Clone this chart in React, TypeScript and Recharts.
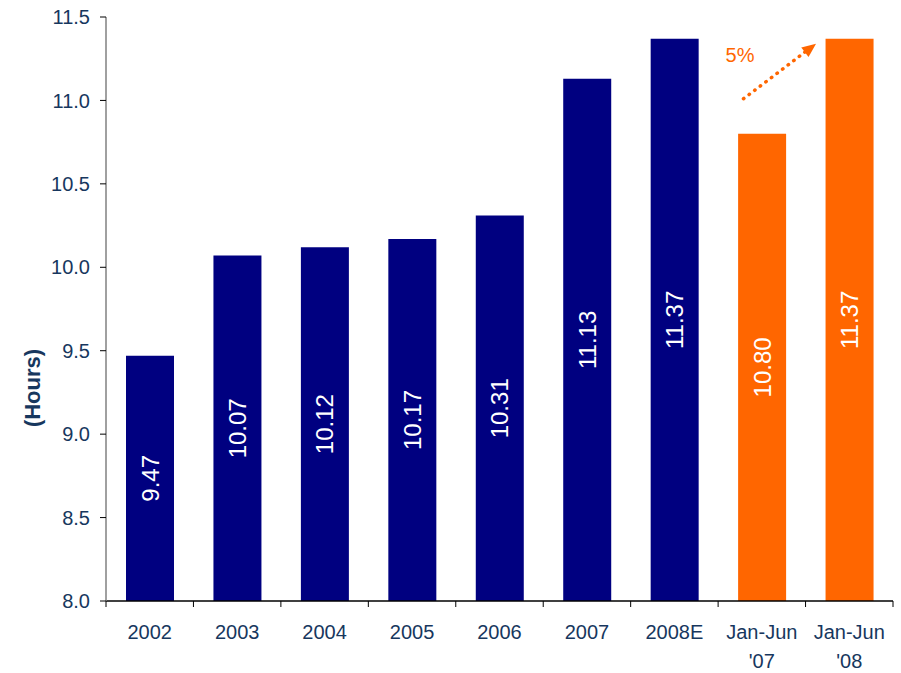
import React from "react";
import {
  BarChart,
  Bar,
  XAxis,
  YAxis,
  Cell,
  LabelList,
  ReferenceLine,
  ReferenceDot,
} from "recharts";

// ---- data ----
const categories = ["2002", "2003", "2004", "2005", "2006", "2007", "2008E", "Jan-Jun '07", "Jan-Jun '08"];
const hours = [9.47, 10.07, 10.12, 10.17, 10.31, 11.13, 11.37, 10.8, 11.37];
const periodKinds = ["year", "year", "year", "year", "year", "year", "year", "half", "half"];
const yTicks = [8.0, 8.5, 9.0, 9.5, 10.0, 10.5, 11.0, 11.5];
const growthLabel = "5%";
// annotation arrow endpoints (category-position units, hours)
const arrowStart = { x: 7.29, y: 11.01 };
const arrowEnd = { x: 8.12, y: 11.34 };
const growthLabelPos = { x: 7.25, y: 11.27 };

const data = categories.map((c, i) => ({ label: c, hours: hours[i], kind: periodKinds[i], pos: i + 0.5 }));

// ---- styles / layout ----
const W = 901;
const H = 673;
const MARGIN = { top: 17, right: 8, bottom: 0, left: 0 };
const Y_AXIS_W = 106;
const X_AXIS_H = 72;
const PLOT_W = W - MARGIN.left - MARGIN.right - Y_AXIS_W;
const STEP = PLOT_W / categories.length;
const TEXT = "#17375E";
const NAVY = "#000080";
const ORANGE = "#FF6600";
const FONT = "'Liberation Sans', Arial, sans-serif";

const colorFor = (kind: string) => (kind === "half" ? ORANGE : NAVY);

const XTick = (props: any) => {
  const { x, y, payload, index } = props;
  const lines = String(payload.value).split(" ");
  const top = y - 6;
  return (
    <g>
      <line x1={x - STEP / 2} y1={top} x2={x - STEP / 2} y2={top + 6} stroke="#000" strokeWidth={1} />
      {index === categories.length - 1 && (
        <line x1={x + STEP / 2} y1={top} x2={x + STEP / 2} y2={top + 6} stroke="#000" strokeWidth={1} />
      )}
      <text x={x} y={y} textAnchor="middle" fill={TEXT} fontSize={20} fontFamily={FONT}>
        {lines.map((l, i) => (
          <tspan key={i} x={x} dy={i === 0 ? 32 : 29}>
            {l}
          </tspan>
        ))}
      </text>
    </g>
  );
};

const ArrowShape = (props: any) => {
  const { x1, y1, x2, y2 } = props;
  const dx = x2 - x1;
  const dy = y2 - y1;
  const len = Math.sqrt(dx * dx + dy * dy);
  const ux = dx / len;
  const uy = dy / len;
  const head = 14;
  const bx = x2 - ux * head;
  const by = y2 - uy * head;
  const px = -uy * 6;
  const py = ux * 6;
  return (
    <g>
      <line
        x1={x1}
        y1={y1}
        x2={bx}
        y2={by}
        stroke={ORANGE}
        strokeWidth={3.5}
        strokeDasharray="0.5 6.5"
        strokeLinecap="round"
      />
      <polygon points={`${x2},${y2} ${bx + px},${by + py} ${bx - px},${by - py}`} fill={ORANGE} />
    </g>
  );
};

const YLabel = () => (
  <text
    x={32}
    y={388}
    transform="rotate(-90, 32, 388)"
    textAnchor="middle"
    dominantBaseline="central"
    fill={TEXT}
    fontSize={22}
    fontWeight="bold"
    fontFamily={FONT}
  >
    (Hours)
  </text>
);

export default function App() {
  return (
    <div style={{ position: "absolute", left: 0, top: 0, width: W, height: H, background: "#fff" }}>
      <BarChart width={W} height={H} data={data} margin={MARGIN} barSize={48}>
        <XAxis
          dataKey="label"
          height={X_AXIS_H}
          axisLine={{ stroke: "#000", strokeWidth: 1.5 }}
          tickLine={false}
          tickSize={6}
          tickMargin={0}
          interval={0}
          tick={<XTick />}
        />
        <XAxis
          xAxisId="num"
          dataKey="pos"
          type="number"
          domain={[0, categories.length]}
          allowDataOverflow
          padding={{ left: 0, right: 0 }}
          hide
        />
        <YAxis
          width={Y_AXIS_W}
          domain={[8, 11.5]}
          ticks={yTicks}
          interval={0}
          allowDataOverflow
          tickFormatter={(v: number) => v.toFixed(1)}
          axisLine={{ stroke: "#808080", strokeWidth: 1.5 }}
          tickLine={{ stroke: "#000" }}
          tickSize={6}
          tickMargin={10}
          tick={{ fill: TEXT, fontSize: 20, fontFamily: FONT }}
          label={<YLabel />}
        />
        <Bar dataKey="hours" isAnimationActive={false}>
          {data.map((d, i) => (
            <Cell key={i} fill={colorFor(d.kind)} />
          ))}
          <LabelList
            dataKey="hours"
            position="center"
            angle={-90}
            fill="#fff"
            fontSize={24}
            fontFamily={FONT}
            formatter={(v: any) => Number(v).toFixed(2)}
          />
        </Bar>
        <ReferenceLine
          xAxisId="num"
          segment={[arrowStart, arrowEnd]}
          ifOverflow="visible"
          shape={<ArrowShape />}
        />
        <ReferenceDot
          xAxisId="num"
          x={growthLabelPos.x}
          y={growthLabelPos.y}
          r={0}
          fill="none"
          stroke="none"
          ifOverflow="visible"
          label={{ value: growthLabel, position: "center", fill: ORANGE, fontSize: 20, fontFamily: FONT }}
        />
      </BarChart>
    </div>
  );
}
